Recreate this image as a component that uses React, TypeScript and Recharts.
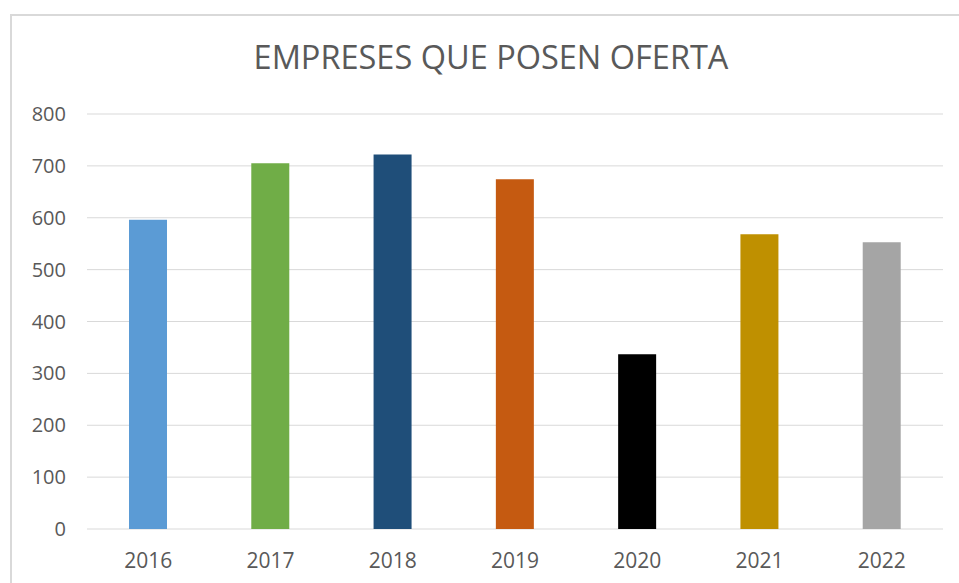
import { Bar, BarChart, CartesianGrid, Cell, XAxis, YAxis } from "recharts"

const years = ["2016", "2017", "2018", "2019", "2020", "2021", "2022"]
const companies = [596, 705, 722, 674, 337, 568, 553]
const barColors = ["#5B9BD5", "#70AD47", "#1F4E79", "#C55A11", "#000000", "#BF9000", "#A5A5A5"]
const yTicks = [0, 100, 200, 300, 400, 500, 600, 700, 800]

const chartData = years.map((year, i) => ({ year, value: companies[i] }))

const FONT = "'Open Sans', sans-serif"
const TEXT_GRAY = "#595959"

export default function App() {
  return (
    <div style={{ position: "absolute", left: 0, top: 0, width: 959, height: 583, background: "#fff", overflow: "hidden" }}>
      {/* chart area frame: only top and left edges are visible in the crop */}
      <div
        style={{
          position: "absolute",
          left: 10,
          top: 14,
          width: 980,
          height: 600,
          borderTop: "2px solid #d9d9d9",
          borderLeft: "2px solid #d9d9d9",
        }}
      />
      <div
        style={{
          position: "absolute",
          left: 241,
          top: 41,
          width: 500,
          textAlign: "center",
          fontFamily: FONT,
          fontSize: 32.5,
          lineHeight: "32px",
          color: TEXT_GRAY,
          whiteSpace: "nowrap",
        }}
      >
        EMPRESES QUE POSEN OFERTA
      </div>
      <div style={{ position: "absolute", left: 0, top: 0 }}>
        <BarChart
          width={959}
          height={583}
          data={chartData}
          margin={{ top: 114, right: 16, bottom: 0, left: 0 }}
        >
          <CartesianGrid vertical={false} stroke="#d9d9d9" strokeWidth={1} />
          <XAxis
            dataKey="year"
            axisLine={false}
            tickLine={false}
            tickSize={0}
            tickMargin={24}
            height={54}
            tick={{ fill: TEXT_GRAY, fontSize: 21, fontFamily: FONT }}
          />
          <YAxis
            domain={[0, 800]}
            ticks={yTicks}
            width={87}
            axisLine={false}
            tickLine={false}
            tickSize={0}
            tickMargin={21}
            tick={{ fill: TEXT_GRAY, fontSize: 20, fontFamily: FONT }}
          />
          <Bar dataKey="value" barSize={38} isAnimationActive={false}>
            {chartData.map((entry, index) => (
              <Cell key={`cell-${entry.year}`} fill={barColors[index]} />
            ))}
          </Bar>
        </BarChart>
      </div>
    </div>
  )
}
